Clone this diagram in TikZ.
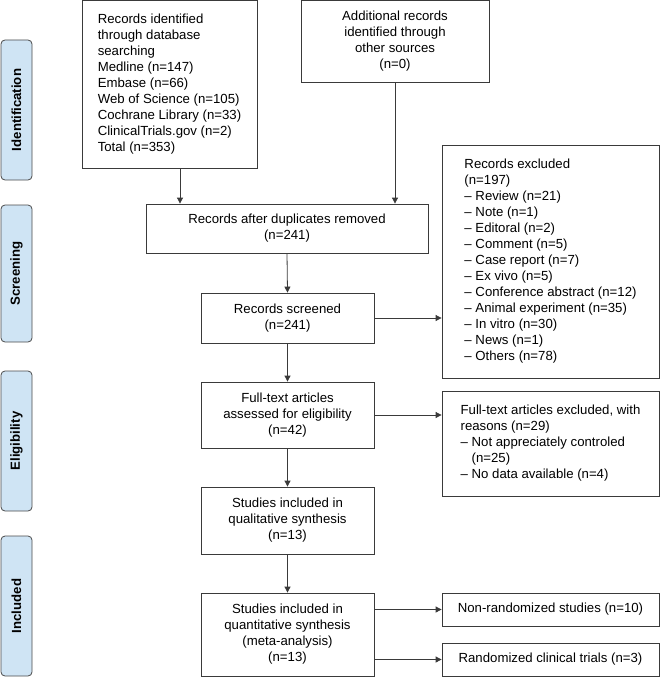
\documentclass[tikz,border=0pt]{standalone}
\usepackage{fontspec}
\setmainfont{Liberation Sans}
\usetikzlibrary{arrows.meta}
\definecolor{phasefill}{HTML}{CFE4F4}
\definecolor{phaseline}{HTML}{4A4A4A}
\definecolor{linec}{HTML}{3A3A3A}
\begin{document}
\begin{tikzpicture}[x=1pt,y=-1pt,
  box/.style={draw=linec, line width=0.8pt, fill=white, inner sep=0pt, text=black,
    font=\fontsize{13.2}{16}\selectfont},
  phase/.style={draw=phaseline, line width=0.8pt, fill=phasefill, rounded corners=4pt,
    inner sep=0pt, rotate=90, minimum height=31pt, font=\fontsize{13.2}{16}\selectfont\bfseries},
  arr/.style={draw=linec, line width=0.8pt, -{Triangle[length=6pt,width=6pt]}}]
\useasboundingbox (0,0) rectangle (660,677);

% phase labels
\node[phase, minimum width=140pt] (pid) at (16.5,110) {Identification};
\node[phase, minimum width=137pt] (psc) at (16.5,273.5) {Screening};
\node[phase, minimum width=140pt] (pel) at (16.5,441) {Eligibility};
\node[phase, minimum width=140pt] (pin) at (16.5,606) {Included};

% boxes
\node[box, align=left, minimum width=175pt, minimum height=168pt] (db) at (169.5,84.5)
  {Records identified\\through database\\searching\\Medline (n=147)\\Embase (n=66)\\Web of Science (n=105)\\Cochrane Library (n=33)\\ClinicalTrials.gov (n=2)\\Total (n=353)};
\node[box, align=center, minimum width=188pt, minimum height=82pt] (other) at (395,41.5)
  {Additional records\\identified through\\other sources\\(n=0)};
\node[box, align=center, minimum width=282pt, minimum height=49pt] (dup) at (287,228.5)
  {Records after duplicates removed\\(n=241)};
\node[box, align=center, minimum width=173pt, minimum height=50pt] (scr) at (287.5,318)
  {Records screened\\(n=241)};
\node[box, align=left, minimum width=217pt, minimum height=233pt] (excl) at (550.5,261.5)
  {Records excluded\\(n=197)\\– Review (n=21)\\– Note (n=1)\\– Editoral (n=2)\\– Comment (n=5)\\– Case report (n=7)\\– Ex vivo (n=5)\\– Conference abstract (n=12)\\– Animal experiment (n=35)\\– In vitro (n=30)\\– News (n=1)\\– Others (n=78)};
\node[box, align=center, minimum width=173pt, minimum height=66pt] (ft) at (287.5,415)
  {Full-text articles\\assessed for eligibility\\(n=42)};
\node[box, align=left, minimum width=217pt, minimum height=105pt] (fte) at (550.5,443.5)
  {Full-text articles excluded, with\\reasons (n=29)\\– Not appreciately controled\\\hspace*{11pt}(n=25)\\– No data available (n=4)};
\node[box, align=center, minimum width=173pt, minimum height=67pt] (qual) at (287.5,520.5)
  {Studies included in\\qualitative synthesis\\(n=13)};
\node[box, align=center, minimum width=173pt, minimum height=83pt] (quant) at (287.5,634.5)
  {Studies included in\\quantitative synthesis\\(meta-analysis)\\(n=13)};
\node[box, align=center, minimum width=217pt, minimum height=33pt] (nonr) at (550.5,609.5)
  {Non-randomized studies (n=10)};
\node[box, align=center, minimum width=217pt, minimum height=33pt] (rand) at (550.5,659.5)
  {Randomized clinical trials (n=3)};

% connectors
\draw[arr] ([xshift=10.5pt]db.south) -- ([xshift=10.5pt]db.south |- dup.north);
\draw[arr] (other.south) -- (other.south |- dup.north);
\draw[arr] (dup.south) -- (scr.north);
\draw[arr] (scr.east) -- (scr.east -| excl.west);
\draw[arr] (scr.south) -- (ft.north);
\draw[arr] (ft.east) -- (ft.east -| fte.west);
\draw[arr] (ft.south) -- (qual.north);
\draw[arr] (qual.south) -- (quant.north);
\draw[arr] (quant.east |- nonr.west) -- (nonr.west);
\draw[arr] (quant.east |- rand.west) -- (rand.west);
\end{tikzpicture}
\end{document}
